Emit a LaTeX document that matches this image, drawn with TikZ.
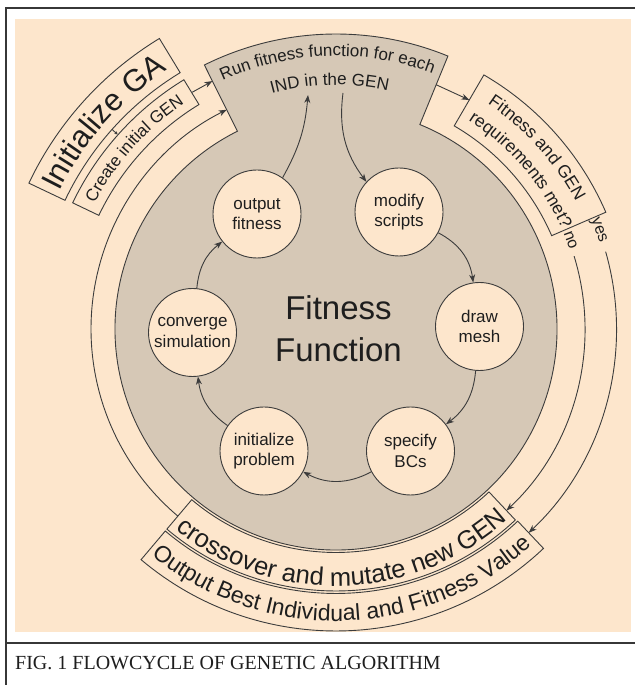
\documentclass[tikz,border=0pt]{standalone}
\usepackage{fontspec}
\setmainfont{Liberation Sans}
\newfontfamily\capfont{Liberation Serif}
\usetikzlibrary{decorations.text,arrows.meta,calc}
\definecolor{bgc}{RGB}{253,230,204}
\definecolor{gfill}{RGB}{214,200,182}
\definecolor{lnc}{RGB}{60,60,60}
\definecolor{txt}{RGB}{30,30,30}
\definecolor{framec}{RGB}{55,55,55}
\begin{document}
\begin{tikzpicture}[x=1pt,y=1pt,
  lw/.style={draw=lnc,line width=0.9pt},
  arr/.style={lw,-{Stealth[length=8pt,width=6pt,inset=2.5pt]}},
  circ/.style={circle,draw=lnc,line width=0.9pt,fill=bgc,minimum size=88pt,inner sep=0pt,align=center,font=\fontsize{17}{20.7}\selectfont,text=txt},
  curvtext/.style={decorate,decoration={text along path,text align=center,text color=txt,text={#1}}},
  framel/.style={draw=framec,line width=1.5pt}]
\useasboundingbox (0,0) rectangle (635,685);
\fill[white] (0,0) rectangle (635,685);
\fill[bgc] (15,53) rectangle (631,666);
\draw[framel] (6,0) -- (6,677) -- (635,677);
\draw[framel] (6,42) -- (635,42);
\node[anchor=west,font=\capfont\fontsize{20}{20}\selectfont,text=txt,inner sep=0pt] (cap) at (15,22) {FIG. 1 FLOWCYCLE OF GENETIC ALGORITHM};

\begin{scope}[shift={(336,356)}]
 % gray circle with top box
 \draw[lw,fill=gfill] (116.5:221) -- (116.5:295) arc[start angle=116.5,end angle=67.7,radius=295] -- (67.7:221) arc[start angle=67.7,end angle=-243.5,radius=221] -- cycle;
 % crossover box
 \draw[lw,fill=bgc] (-130.2:223.5) -- (-130.2:262) arc[start angle=-130.2,end angle=-46.8,radius=262] -- (-46.8:223.5) arc[start angle=-46.8,end angle=-130.2,radius=223.5] -- cycle;
 % output box
 \draw[lw,fill=bgc] (-130.2:264.5) -- (-130.2:302) arc[start angle=-130.2,end angle=-46.6,radius=302] -- (-46.6:264.5) arc[start angle=-46.6,end angle=-130.2,radius=264.5] -- cycle;
 % right decision box
 \draw[lw,fill=bgc] (59.8:235) -- (59.8:294) arc[start angle=59.8,end angle=23.4,radius=294] -- (23.4:235) arc[start angle=23.4,end angle=59.8,radius=235] -- cycle;
 % create initial GEN box
 \draw[lw,fill=bgc] (121.4:263) -- (121.4:292) arc[start angle=121.4,end angle=154.4,radius=292] -- (154.4:263) arc[start angle=154.4,end angle=121.4,radius=263] -- cycle;
 % initialize GA box
 \draw[lw,fill=bgc] (121.3:300) -- (121.3:340) arc[start angle=121.3,end angle=154.6,radius=340] -- (154.6:300) arc[start angle=154.6,end angle=121.3,radius=300] -- cycle;

 % connectors of the outer cycle
 \draw[lw,-{Stealth[length=3pt,width=3.5pt]}] (138.3:300) -- (138.3:292.5);
 \draw[arr] (121.3:277) -- (116.5:277);
 \draw[arr] (67.7:264) -- (59.8:265);
 \draw[arr] (229.8:245) arc[start angle=229.8,end angle=116.5,radius=245];
 \draw[arr] (17:249) arc[start angle=17,end angle=-46.8,radius=249];
 \draw[arr] (16:280.5) arc[start angle=16,end angle=-46.6,radius=280.5];
 \node[rotate=-69.7,font=\fontsize{16}{16}\selectfont,text=txt,inner sep=0pt] (yes) at (20.6:280) {yes};
 \node[rotate=-69.5,font=\fontsize{16}{16}\selectfont,text=txt,inner sep=0pt] (no) at (20.8:251) {no};

 % curved texts
 \path[curvtext={|\fontsize{31}{31}\selectfont|Initialize GA}] (158.3:309) arc[start angle=158.3,end angle=118.3,radius=309];
 \path[curvtext={|\fontsize{17}{17}\selectfont|Create initial GEN}] (158.2:272) arc[start angle=158.2,end angle=118.2,radius=272];
 \path[curvtext={|\fontsize{17}{17}\selectfont|Run fitness function for each}] (121.9:273) arc[start angle=121.9,end angle=61.9,radius=273];
 \path[curvtext={|\fontsize{17}{17}\selectfont|IND in the GEN}] (111.5:244) arc[start angle=111.5,end angle=71.5,radius=244];
 \path[curvtext={|\fontsize{17.5}{17.5}\selectfont|Fitness and GEN}] (62:271.5) arc[start angle=62,end angle=22,radius=271.5];
 \path[curvtext={|\fontsize{17.5}{17.5}\selectfont|requirements met?}] (60.7:247) arc[start angle=60.7,end angle=20.7,radius=247];
 \path[curvtext={|\fontsize{25.5}{25.5}\selectfont|crossover and mutate new GEN}] (-138.3:257) arc[start angle=-138.3,end angle=-38.3,radius=257];
 \path[curvtext={|\fontsize{23}{23}\selectfont|Output Best Individual and Fitness Value}] (-138.5:292) arc[start angle=-138.5,end angle=-38.5,radius=292];
\end{scope}

% fitness function inner cycle
\node[align=center,font=\fontsize{33}{42}\selectfont,text=txt] (ff) at (338.5,356) {Fitness\\Function};
\node[circ] (outf) at (257,471) {output\\fitness};
\node[circ] (mods) at (399,473) {modify\\scripts};
\node[circ] (mesh) at (479.5,358.5) {draw\\mesh};
\node[circ] (bcs) at (410.5,234) {specify\\BCs};
\node[circ] (initp) at (264,234) {initialize\\problem};
\node[circ] (conv) at (192.5,352.5) {converge\\simulation};
\coordinate (tUp) at (308,590);
\coordinate (tDown) at (343,592);

\draw[arr] (outf) to[bend right=12] (tUp);
\draw[arr] (tDown) to[bend right=22] (mods);
\draw[arr] (mods) to[bend left=27] (mesh);
\draw[arr] (mesh) to[bend left=24] (bcs);
\draw[arr] (bcs) to[bend left=28] (initp);
\draw[arr] (initp) to[bend left=24] (conv);
\draw[arr] (conv) to[bend left=23] (outf);
\end{tikzpicture}
\end{document}
